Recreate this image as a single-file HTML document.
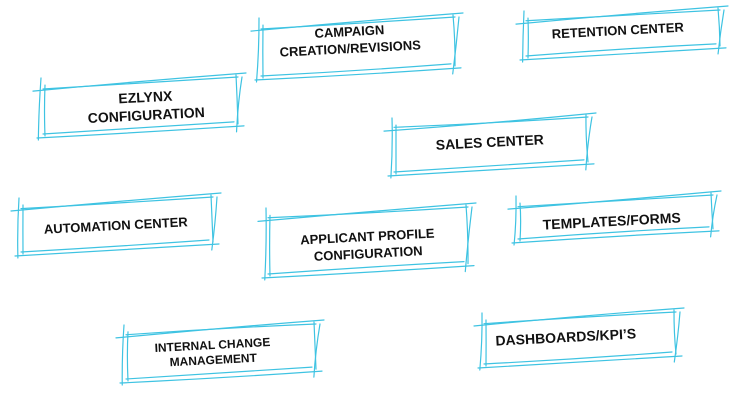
<!DOCTYPE html>
<html><head><meta charset="utf-8"><style>
html,body{margin:0;padding:0;background:#fff;width:744px;height:403px;overflow:hidden}
svg{display:block}
text{font-family:"Liberation Sans",Arial,sans-serif;font-weight:bold;font-size:13px;fill:#111;text-anchor:middle}
</style></head><body>
<svg id="s" width="744" height="403" viewBox="0 0 744 403" xmlns="http://www.w3.org/2000/svg">
<g id="boxes" fill="none" stroke="#3ec3e2" stroke-width="1.2" stroke-linecap="round"></g>
<text transform="translate(350,44) rotate(-3)"><tspan x="0" y="-8">CAMPAIGN</tspan><tspan x="0" y="9">CREATION/REVISIONS</tspan></text>
<text transform="translate(618,35) rotate(-3)">RETENTION CENTER</text>
<text transform="translate(146,110) rotate(-3)" font-size="14" style="font-size:14px"><tspan x="0" y="-8">EZLYNX</tspan><tspan x="0" y="10">CONFIGURATION</tspan></text>
<text transform="translate(490,147) rotate(-3)" style="font-size:14px">SALES CENTER</text>
<text transform="translate(116,230) rotate(-3)">AUTOMATION CENTER</text>
<text transform="translate(368,249) rotate(-3)"><tspan x="0" y="-8">APPLICANT PROFILE</tspan><tspan x="0" y="9">CONFIGURATION</tspan></text>
<text transform="translate(612,226) rotate(-3)" style="font-size:14px">TEMPLATES/FORMS</text>
<text transform="translate(213,356) rotate(-3)" style="font-size:12px"><tspan x="0" y="-7">INTERNAL CHANGE</tspan><tspan x="0" y="8">MANAGEMENT</tspan></text>
<text transform="translate(566,342) rotate(-3)" style="font-size:14px">DASHBOARDS/KPI’S</text>
</svg>
<script>
var boxes=[[255,15,457,82],[520,8,722,62],[37,75,240,140],[388,115,590,178],[15,195,215,258],[262,205,470,280],[512,193,715,245],[120,322,318,385],[478,310,678,370]];
var g=document.getElementById('boxes');var seed=3;function r(){seed=(seed*9301+49297)%233280;return seed/233280-0.5;}
function L(a,b,c,d){var p=document.createElementNS('http://www.w3.org/2000/svg','path');var mx=(a+c)/2+r()*3,my=(b+d)/2+r()*3;p.setAttribute('d','M'+a+' '+b+' Q'+mx+' '+my+' '+c+' '+d);g.appendChild(p);}
boxes.forEach(function(b){var x1=b[0],y1=b[1],x2=b[2],y2=b[3];var t=(x2-x1)*0.05;
// pass 1 (tilted, top higher on right)
L(x1-4,y1+t+6,x2+6,y1-2);L(x1+6,y1+t+3+r()*2,x2-2,y1+2);
L(x1+4,y1+3,x1+2+r()*2,y2);L(x1+8,y1+t,x1+8,y2-4);
L(x2-4,y1,x2-2,y2-t-6);L(x2+2,y1+2,x2-4+r()*2,y2-t+2);
L(x1,y2-2,x2+4,y2-t-4);L(x1+6,y2-6,x2-6,y2-t-8);
});
</script>
</body></html>
